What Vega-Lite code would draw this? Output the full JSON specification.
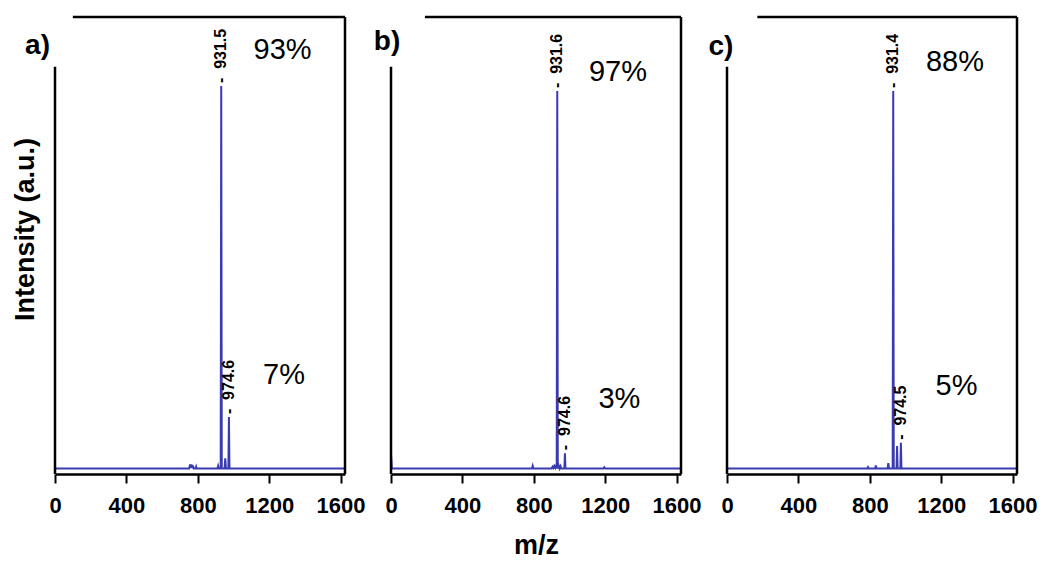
{
  "$schema": "https://vega.github.io/schema/vega-lite/v6.json",
  "background": "white",
  "padding": {"left": 11, "top": 15, "right": 5, "bottom": 5},
  "config": {
    "font": "Liberation Sans",
    "view": {"stroke": null},
    "axis": {"grid": false, "domainColor": "black", "tickColor": "black", "labelColor": "black", "titleColor": "black"}
  },
  "datasets": {
    "spec": [
      {"panel": "a", "mz": 0, "intensity": 0},
      {"panel": "a", "mz": 752, "intensity": 0},
      {"panel": "a", "mz": 757, "intensity": 0.9},
      {"panel": "a", "mz": 761, "intensity": 0.2},
      {"panel": "a", "mz": 765, "intensity": 0.9},
      {"panel": "a", "mz": 769, "intensity": 0.1},
      {"panel": "a", "mz": 773, "intensity": 0.7},
      {"panel": "a", "mz": 777, "intensity": 0},
      {"panel": "a", "mz": 788, "intensity": 0},
      {"panel": "a", "mz": 791, "intensity": 0.4},
      {"panel": "a", "mz": 794, "intensity": 0},
      {"panel": "a", "mz": 910, "intensity": 0},
      {"panel": "a", "mz": 914, "intensity": 0.6},
      {"panel": "a", "mz": 918, "intensity": 0},
      {"panel": "a", "mz": 928.5, "intensity": 0},
      {"panel": "a", "mz": 931.5, "intensity": 84.7},
      {"panel": "a", "mz": 934.5, "intensity": 0},
      {"panel": "a", "mz": 950, "intensity": 0},
      {"panel": "a", "mz": 954, "intensity": 2.3},
      {"panel": "a", "mz": 958, "intensity": 0},
      {"panel": "a", "mz": 971.6, "intensity": 0},
      {"panel": "a", "mz": 974.6, "intensity": 11.4},
      {"panel": "a", "mz": 977.6, "intensity": 0},
      {"panel": "a", "mz": 1625, "intensity": 0},
      {"panel": "b", "mz": 0, "intensity": 3.2},
      {"panel": "b", "mz": 5, "intensity": 0},
      {"panel": "b", "mz": 790, "intensity": 0},
      {"panel": "b", "mz": 794, "intensity": 0.6},
      {"panel": "b", "mz": 798, "intensity": 0},
      {"panel": "b", "mz": 900, "intensity": 0},
      {"panel": "b", "mz": 905, "intensity": 0.4},
      {"panel": "b", "mz": 910, "intensity": 0.1},
      {"panel": "b", "mz": 915, "intensity": 0.6},
      {"panel": "b", "mz": 920, "intensity": 0.2},
      {"panel": "b", "mz": 924, "intensity": 0.8},
      {"panel": "b", "mz": 928.6, "intensity": 0},
      {"panel": "b", "mz": 931.6, "intensity": 83.6},
      {"panel": "b", "mz": 934.6, "intensity": 0},
      {"panel": "b", "mz": 940, "intensity": 0.6},
      {"panel": "b", "mz": 945, "intensity": 0},
      {"panel": "b", "mz": 950, "intensity": 0.5},
      {"panel": "b", "mz": 954, "intensity": 0},
      {"panel": "b", "mz": 971.6, "intensity": 0},
      {"panel": "b", "mz": 974.6, "intensity": 3.4},
      {"panel": "b", "mz": 977.6, "intensity": 0},
      {"panel": "b", "mz": 1190, "intensity": 0},
      {"panel": "b", "mz": 1195, "intensity": 0.3},
      {"panel": "b", "mz": 1200, "intensity": 0},
      {"panel": "b", "mz": 1625, "intensity": 0},
      {"panel": "c", "mz": 0, "intensity": 0},
      {"panel": "c", "mz": 786, "intensity": 0},
      {"panel": "c", "mz": 790, "intensity": 0.3},
      {"panel": "c", "mz": 794, "intensity": 0},
      {"panel": "c", "mz": 830, "intensity": 0},
      {"panel": "c", "mz": 834, "intensity": 0.7},
      {"panel": "c", "mz": 838, "intensity": 0},
      {"panel": "c", "mz": 900, "intensity": 0},
      {"panel": "c", "mz": 904, "intensity": 1.2},
      {"panel": "c", "mz": 908, "intensity": 0},
      {"panel": "c", "mz": 928.4, "intensity": 0},
      {"panel": "c", "mz": 931.4, "intensity": 83.6},
      {"panel": "c", "mz": 934.4, "intensity": 0},
      {"panel": "c", "mz": 950, "intensity": 0},
      {"panel": "c", "mz": 953, "intensity": 5.0},
      {"panel": "c", "mz": 956, "intensity": 0},
      {"panel": "c", "mz": 971.5, "intensity": 0},
      {"panel": "c", "mz": 974.5, "intensity": 5.7},
      {"panel": "c", "mz": 977.5, "intensity": 0},
      {"panel": "c", "mz": 1625, "intensity": 0}
    ],
    "peaks": [
      {"panel": "a", "label": "-\u00a0\u00a0931.5", "mz": 931.5, "intensity": 84.7},
      {"panel": "a", "label": "-\u00a0\u00a0974.6", "mz": 974.6, "intensity": 11.4},
      {"panel": "b", "label": "-\u00a0\u00a0931.6", "mz": 931.6, "intensity": 83.6},
      {"panel": "b", "label": "-\u00a0\u00a0974.6", "mz": 974.6, "intensity": 3.4},
      {"panel": "c", "label": "-\u00a0\u00a0931.4", "mz": 931.4, "intensity": 83.6},
      {"panel": "c", "label": "-\u00a0\u00a0974.5", "mz": 974.5, "intensity": 5.7}
    ],
    "pct": [
      {"panel": "a", "label": "93%", "mz": 1275, "intensity": 92.6},
      {"panel": "a", "label": "7%", "mz": 1283, "intensity": 20.7},
      {"panel": "b", "label": "97%", "mz": 1272, "intensity": 87.8},
      {"panel": "b", "label": "3%", "mz": 1280, "intensity": 15.4},
      {"panel": "c", "label": "88%", "mz": 1277, "intensity": 90.1},
      {"panel": "c", "label": "5%", "mz": 1286, "intensity": 18.3}
    ]
  },
  "spacing": 46,
  "bounds": "flush",
  "hconcat": [
    {
      "width": 290, "height": 457,
      "layer": [
        {
          "data": {"name": "spec"},
          "transform": [{"filter": "datum.panel === 'a'"}],
          "mark": {"type": "line", "color": "#3b3bb0", "strokeWidth": 2},
          "encoding": {
            "x": {"field": "mz", "type": "quantitative", "scale": {"domain": [0, 1625], "nice": false},
              "axis": {"values": [0,100,200,300,400,500,600,700,800,900,1000,1100,1200,1300,1400,1500,1600], "labelExpr": "datum.value % 400 === 0 ? datum.label : ''", "format": "d", "domainWidth": 2.5, "tickWidth": 2, "tickSize": 9, "labelFontSize": 22, "labelFontWeight": "bold", "labelPadding": 12, "labelFlush": false, "labelOverlap": false, "title": null}},
            "y": {"field": "intensity", "type": "quantitative", "scale": {"domain": [-1.2, 100], "nice": false, "zero": false},
              "axis": {"domain": false, "ticks": false, "labels": false, "title": "Intensity (a.u.)", "titleFontSize": 27, "titleFontWeight": "bold", "titlePadding": 16, "titleY": 212}}
          }
        },
        {"data": {"values": [{}]}, "mark": {"type": "rule", "color": "black", "strokeWidth": 2.5}, "encoding": {"x": {"datum": 0}, "y": {"datum": -1.2}, "y2": {"datum": 89}}},
        {"data": {"values": [{}]}, "mark": {"type": "rule", "color": "black", "strokeWidth": 2.5}, "encoding": {"x": {"datum": 100}, "x2": {"datum": 1625}, "y": {"datum": 100}}},
        {"data": {"values": [{}]}, "mark": {"type": "rule", "color": "black", "strokeWidth": 2.5}, "encoding": {"x": {"datum": 1625}, "y": {"datum": -1.2}, "y2": {"datum": 100}}},
        {"data": {"values": [{}]}, "mark": {"type": "text", "fontSize": 28, "fontWeight": "bold", "align": "center", "baseline": "middle", "color": "black"}, "encoding": {"x": {"datum": -98}, "y": {"datum": 93.6}, "text": {"value": "a)"}}},
        {"data": {"name": "peaks"}, "transform": [{"filter": "datum.panel === 'a'"}], "mark": {"type": "text", "fontSize": 16, "fontWeight": "bold", "angle": 270, "align": "left", "baseline": "middle", "dx": 3, "color": "black"}, "encoding": {"x": {"field": "mz", "type": "quantitative"}, "y": {"field": "intensity", "type": "quantitative"}, "text": {"field": "label"}}},
        {"data": {"name": "pct"}, "transform": [{"filter": "datum.panel === 'a'"}], "mark": {"type": "text", "fontSize": 29, "align": "center", "baseline": "middle", "color": "black"}, "encoding": {"x": {"field": "mz", "type": "quantitative"}, "y": {"field": "intensity", "type": "quantitative"}, "text": {"field": "label"}}}
      ]
    },
    {
      "width": 290, "height": 457,
      "layer": [
        {
          "data": {"name": "spec"},
          "transform": [{"filter": "datum.panel === 'b'"}],
          "mark": {"type": "line", "color": "#3b3bb0", "strokeWidth": 2},
          "encoding": {
            "x": {"field": "mz", "type": "quantitative", "scale": {"domain": [0, 1625], "nice": false},
              "axis": {"values": [0,100,200,300,400,500,600,700,800,900,1000,1100,1200,1300,1400,1500,1600], "labelExpr": "datum.value % 400 === 0 ? datum.label : ''", "format": "d", "domainWidth": 2.5, "tickWidth": 2, "tickSize": 9, "labelFontSize": 22, "labelFontWeight": "bold", "labelPadding": 12, "labelFlush": false, "labelOverlap": false, "title": "m/z", "titleFontSize": 27, "titleFontWeight": "bold", "titlePadding": 16}},
            "y": {"field": "intensity", "type": "quantitative", "scale": {"domain": [-1.2, 100], "nice": false, "zero": false}, "axis": null}
          }
        },
        {"data": {"values": [{}]}, "mark": {"type": "rule", "color": "black", "strokeWidth": 2.5}, "encoding": {"x": {"datum": 0}, "y": {"datum": -1.2}, "y2": {"datum": 89}}},
        {"data": {"values": [{}]}, "mark": {"type": "rule", "color": "black", "strokeWidth": 2.5}, "encoding": {"x": {"datum": 190}, "x2": {"datum": 1625}, "y": {"datum": 100}}},
        {"data": {"values": [{}]}, "mark": {"type": "rule", "color": "black", "strokeWidth": 2.5}, "encoding": {"x": {"datum": 1625}, "y": {"datum": -1.2}, "y2": {"datum": 100}}},
        {"data": {"values": [{}]}, "mark": {"type": "text", "fontSize": 28, "fontWeight": "bold", "align": "center", "baseline": "middle", "color": "black"}, "encoding": {"x": {"datum": -22}, "y": {"datum": 94.5}, "text": {"value": "b)"}}},
        {"data": {"name": "peaks"}, "transform": [{"filter": "datum.panel === 'b'"}], "mark": {"type": "text", "fontSize": 16, "fontWeight": "bold", "angle": 270, "align": "left", "baseline": "middle", "dx": 3, "color": "black"}, "encoding": {"x": {"field": "mz", "type": "quantitative"}, "y": {"field": "intensity", "type": "quantitative"}, "text": {"field": "label"}}},
        {"data": {"name": "pct"}, "transform": [{"filter": "datum.panel === 'b'"}], "mark": {"type": "text", "fontSize": 29, "align": "center", "baseline": "middle", "color": "black"}, "encoding": {"x": {"field": "mz", "type": "quantitative"}, "y": {"field": "intensity", "type": "quantitative"}, "text": {"field": "label"}}}
      ]
    },
    {
      "width": 290, "height": 457,
      "layer": [
        {
          "data": {"name": "spec"},
          "transform": [{"filter": "datum.panel === 'c'"}],
          "mark": {"type": "line", "color": "#3b3bb0", "strokeWidth": 2},
          "encoding": {
            "x": {"field": "mz", "type": "quantitative", "scale": {"domain": [0, 1625], "nice": false},
              "axis": {"values": [0,100,200,300,400,500,600,700,800,900,1000,1100,1200,1300,1400,1500,1600], "labelExpr": "datum.value % 400 === 0 ? datum.label : ''", "format": "d", "domainWidth": 2.5, "tickWidth": 2, "tickSize": 9, "labelFontSize": 22, "labelFontWeight": "bold", "labelPadding": 12, "labelFlush": false, "labelOverlap": false, "title": null}},
            "y": {"field": "intensity", "type": "quantitative", "scale": {"domain": [-1.2, 100], "nice": false, "zero": false}, "axis": null}
          }
        },
        {"data": {"values": [{}]}, "mark": {"type": "rule", "color": "black", "strokeWidth": 2.5}, "encoding": {"x": {"datum": 0}, "y": {"datum": -1.2}, "y2": {"datum": 89}}},
        {"data": {"values": [{}]}, "mark": {"type": "rule", "color": "black", "strokeWidth": 2.5}, "encoding": {"x": {"datum": 170}, "x2": {"datum": 1625}, "y": {"datum": 100}}},
        {"data": {"values": [{}]}, "mark": {"type": "rule", "color": "black", "strokeWidth": 2.5}, "encoding": {"x": {"datum": 1625}, "y": {"datum": -1.2}, "y2": {"datum": 100}}},
        {"data": {"values": [{}]}, "mark": {"type": "text", "fontSize": 28, "fontWeight": "bold", "align": "center", "baseline": "middle", "color": "black"}, "encoding": {"x": {"datum": -34}, "y": {"datum": 93.3}, "text": {"value": "c)"}}},
        {"data": {"name": "peaks"}, "transform": [{"filter": "datum.panel === 'c'"}], "mark": {"type": "text", "fontSize": 16, "fontWeight": "bold", "angle": 270, "align": "left", "baseline": "middle", "dx": 3, "color": "black"}, "encoding": {"x": {"field": "mz", "type": "quantitative"}, "y": {"field": "intensity", "type": "quantitative"}, "text": {"field": "label"}}},
        {"data": {"name": "pct"}, "transform": [{"filter": "datum.panel === 'c'"}], "mark": {"type": "text", "fontSize": 29, "align": "center", "baseline": "middle", "color": "black"}, "encoding": {"x": {"field": "mz", "type": "quantitative"}, "y": {"field": "intensity", "type": "quantitative"}, "text": {"field": "label"}}}
      ]
    }
  ]
}
